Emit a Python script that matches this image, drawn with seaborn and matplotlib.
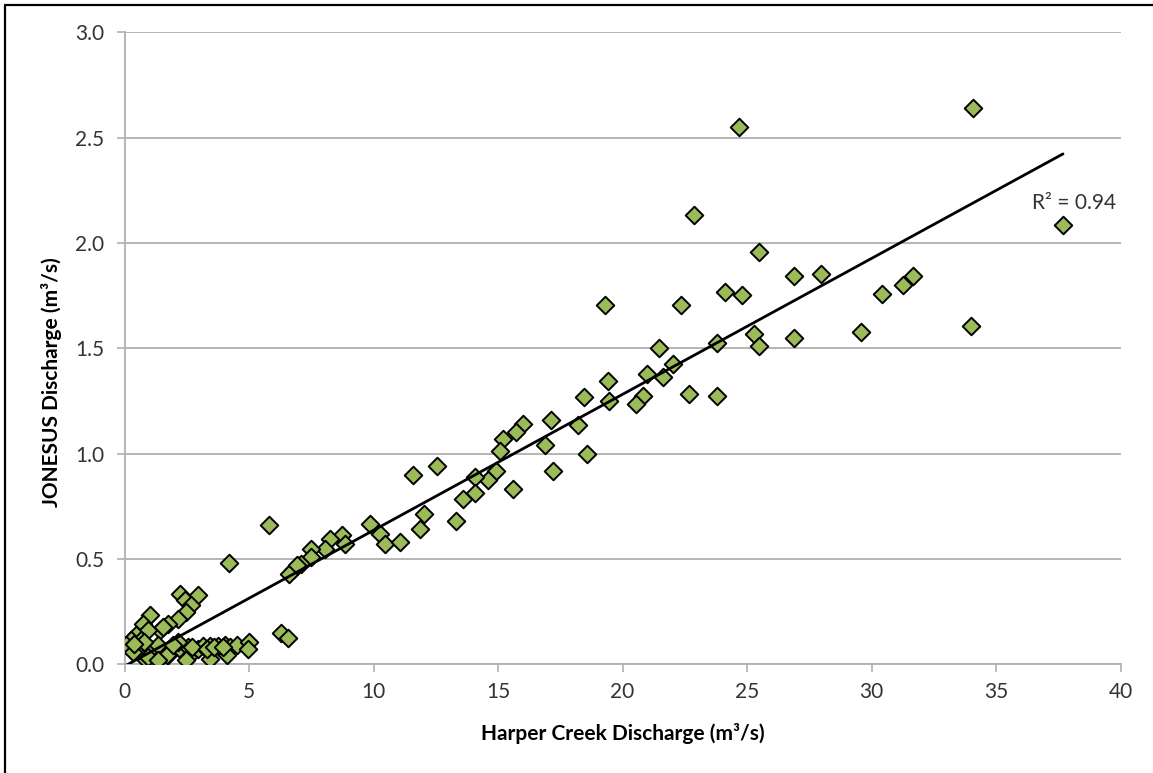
import matplotlib
matplotlib.use("Agg")
import matplotlib.pyplot as plt
from matplotlib.lines import Line2D
from matplotlib.ticker import FormatStrFormatter
import numpy as np
import pandas as pd
import seaborn as sns

# Paired daily discharge observations (m³/s)
harper_creek = [
    34.06, 24.69, 37.69, 22.87, 25.47, 26.89, 27.98, 22.36, 24.10, 24.80,
    30.44, 31.27, 31.67, 33.98, 29.59, 26.89, 25.28, 25.47, 23.78, 21.48,
    22.04, 21.64, 19.30, 23.78, 22.68,
    20.97, 19.40, 18.47, 19.47, 20.81, 20.55, 17.11, 18.21, 16.02, 15.73,
    15.20, 15.09, 16.89, 18.57, 14.93, 14.58, 14.09, 14.09, 13.59, 15.60,
    17.20, 11.58, 12.57, 12.01, 13.32, 11.88,
    9.87, 10.27, 10.47, 11.07, 5.79, 4.18, 8.74, 8.87, 8.27, 8.04,
    7.51, 7.47, 7.07, 6.80, 6.60, 6.94, 6.30, 6.55,
    2.22, 2.95, 2.42, 2.68, 2.48, 2.15, 1.75, 1.41, 1.55, 1.01,
    0.74, 0.94, 0.47, 0.27, 0.07, 0.67, 0.54, 0.34, 1.08, 1.35,
    0.88, 1.21, 1.75, 2.22, 2.55, 2.95, 2.15, 1.69, 3.17, 3.43,
    3.77, 4.04, 4.24, 4.50, 5.01, 4.97, 4.10, 3.43, 2.56, 2.70,
    0.80, 0.40, 1.95, 3.30, 3.60, 3.95, 2.45, 0.95, 1.35,
]
jonesus = [
    2.642, 2.550, 2.088, 2.133, 1.960, 1.846, 1.854, 1.704, 1.770, 1.755,
    1.759, 1.802, 1.842, 1.606, 1.577, 1.549, 1.569, 1.513, 1.527, 1.501,
    1.427, 1.364, 1.704, 1.272, 1.285,
    1.380, 1.345, 1.269, 1.248, 1.273, 1.234, 1.161, 1.138, 1.142, 1.103,
    1.071, 1.012, 1.039, 0.997, 0.917, 0.873, 0.889, 0.813, 0.783, 0.834,
    0.916, 0.897, 0.940, 0.715, 0.679, 0.644,
    0.668, 0.620, 0.570, 0.580, 0.660, 0.480, 0.615, 0.573, 0.597, 0.549,
    0.549, 0.509, 0.478, 0.454, 0.430, 0.470, 0.149, 0.127,
    0.336, 0.327, 0.304, 0.280, 0.248, 0.217, 0.193, 0.161, 0.177, 0.233,
    0.193, 0.161, 0.138, 0.114, 0.090, 0.114, 0.066, 0.058, 0.075, 0.090,
    0.019, 0.011, 0.043, 0.075, 0.082, 0.075, 0.106, 0.043, 0.085, 0.085,
    0.085, 0.090, 0.082, 0.090, 0.106, 0.075, 0.043, 0.027, 0.035, 0.082,
    0.106, 0.098, 0.090, 0.075, 0.082, 0.080, 0.019, 0.035, 0.019,
]

x_ticks = [0, 5, 10, 15, 20, 25, 30, 35, 40]
y_ticks = [0.0, 0.5, 1.0, 1.5, 2.0, 2.5, 3.0]
r2_label = "R² = 0.94"

df = pd.DataFrame({"harper": harper_creek, "jonesus": jonesus})

sns.set_theme(style="white")
plt.rcParams["font.family"] = ["Lato", "DejaVu Sans"]

W, H = 1153, 773
fig = plt.figure(figsize=(W / 100, H / 100), dpi=100)
ax = fig.add_axes([124.5 / W, (H - 664.3) / H, (1120.5 - 124.5) / W, (664.3 - 32.5) / H])

grid_grey = "#b0b0b0"
text_col = "#333333"

sns.scatterplot(
    data=df, x="harper", y="jonesus", ax=ax,
    marker="D", s=80, color="#9bbb59", edgecolor="black", linewidth=1.4,
    zorder=3, legend=False,
)
sns.regplot(
    data=df, x="harper", y="jonesus", ax=ax, scatter=False, ci=None,
    line_kws={"color": "black", "linewidth": 2.0, "zorder": 4},
)

ax.set_xlim(x_ticks[0], x_ticks[-1])
ax.set_ylim(y_ticks[0], y_ticks[-1])
ax.set_xticks(x_ticks)
ax.set_yticks(y_ticks)
ax.yaxis.set_major_formatter(FormatStrFormatter("%.1f"))

ax.grid(axis="y", color=grid_grey, linewidth=1.3)
ax.grid(axis="x", visible=False)
ax.set_axisbelow(True)

for side in ("top", "right"):
    ax.spines[side].set_visible(False)
for side in ("left", "bottom"):
    ax.spines[side].set_color(grid_grey)
    ax.spines[side].set_linewidth(1.3)

ax.tick_params(axis="both", which="major", direction="out", colors=grid_grey,
               labelcolor=text_col, labelsize=15, width=1.2,
               bottom=True, left=True)
ax.tick_params(axis="x", length=6, pad=7)
ax.tick_params(axis="y", length=5.5, pad=9)

ax.set_xlabel("Harper Creek Discharge (m³/s)", fontsize=15, fontweight="bold",
              color="black")
ax.set_ylabel("JONESUS Discharge (m³/s)", fontsize=15, fontweight="bold",
              color="black")
ax.xaxis.set_label_coords(0.5, -0.093)
ax.yaxis.set_label_coords(-0.063, 0.447)

ax.text(36.45, 2.19, r2_label, fontsize=15, color=text_col,
        ha="left", va="center")

# Chart-area frame (left and top edges)
fig.add_artist(Line2D([4.5 / W, 4.5 / W], [0, 1 - 4.5 / H], transform=fig.transFigure,
                      color="black", linewidth=1.6))
fig.add_artist(Line2D([4.5 / W, 1], [1 - 4.5 / H, 1 - 4.5 / H], transform=fig.transFigure,
                      color="black", linewidth=1.6))

fig.savefig("out.png", dpi=100, facecolor="white")
